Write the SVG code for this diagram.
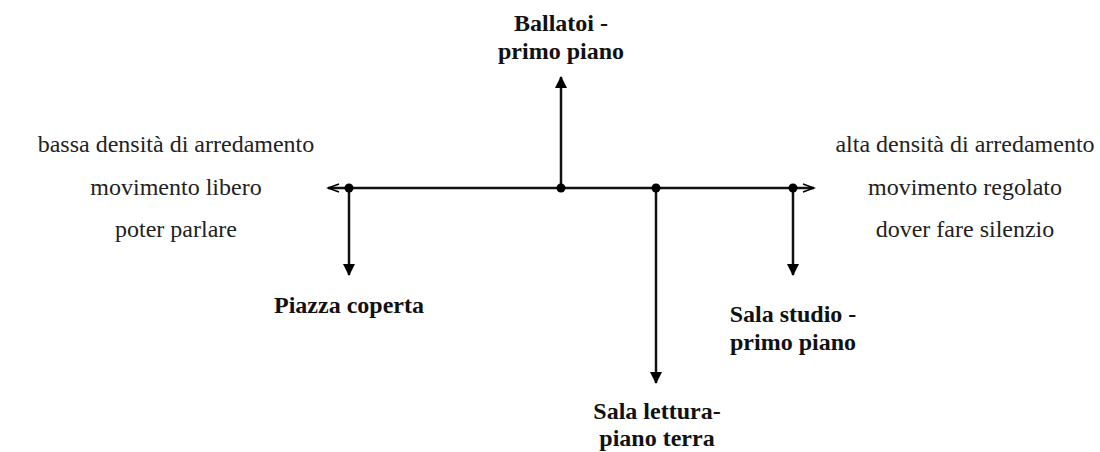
<svg xmlns="http://www.w3.org/2000/svg" width="1100" height="452" viewBox="0 0 1100 452">
<style>
.t{font-family:"Liberation Serif","Times New Roman",serif;font-size:24px;fill:#222;text-anchor:middle}
.b{font-family:"Liberation Serif","Times New Roman",serif;font-size:24px;font-weight:bold;fill:#111;text-anchor:middle}
.ln{stroke:#111;stroke-width:2.5;fill:none}
.dot{fill:#000}
</style>
<defs>
<marker id="tri" markerWidth="12" markerHeight="14" refX="11" refY="6" orient="auto" markerUnits="userSpaceOnUse" viewBox="0 0 12 12">
<path d="M0,0 L12,6 L0,12 z" fill="#000"/>
</marker>
<marker id="open" markerWidth="14" markerHeight="12" refX="12" refY="5" orient="auto" markerUnits="userSpaceOnUse" viewBox="0 0 14 10">
<path d="M1,1 L12,5 L1,9" fill="none" stroke="#000" stroke-width="1.5"/>
</marker>
</defs>
<rect width="1100" height="452" fill="#fff"/>
<g id="connectors">
<line class="ln" x1="561" y1="188" x2="328" y2="188" marker-end="url(#open)"/>
<line class="ln" x1="561" y1="188" x2="814" y2="188" marker-end="url(#open)"/>
<line class="ln" x1="561" y1="188" x2="561" y2="77" marker-end="url(#tri)"/>
<line class="ln" x1="349" y1="188" x2="349" y2="275" marker-end="url(#tri)"/>
<line class="ln" x1="656" y1="188" x2="656" y2="383" marker-end="url(#tri)"/>
<line class="ln" x1="793" y1="188" x2="793" y2="275" marker-end="url(#tri)"/>
<circle class="dot" cx="349" cy="188" r="4.5"/>
<circle class="dot" cx="561" cy="188" r="4.5"/>
<circle class="dot" cx="656" cy="188" r="4.5"/>
<circle class="dot" cx="793" cy="188" r="4.5"/>
</g>
<g id="left-labels">
<text class="t" x="176" y="152">bassa densità di arredamento</text>
<text class="t" x="176" y="195">movimento libero</text>
<text class="t" x="176" y="237">poter parlare</text>
</g>
<g id="right-labels">
<text class="t" x="965" y="152">alta densità di arredamento</text>
<text class="t" x="965" y="195">movimento regolato</text>
<text class="t" x="965" y="237">dover fare silenzio</text>
</g>
<g id="ballatoi">
<text class="b" x="561" y="31">Ballatoi -</text>
<text class="b" x="561" y="59">primo piano</text>
</g>
<g id="piazza">
<text class="b" x="349" y="313">Piazza coperta</text>
</g>
<g id="sala-studio">
<text class="b" x="793" y="322">Sala studio -</text>
<text class="b" x="793" y="350">primo piano</text>
</g>
<g id="sala-lettura">
<text class="b" x="657" y="419">Sala lettura-</text>
<text class="b" x="657" y="446">piano terra</text>
</g>
</svg>
